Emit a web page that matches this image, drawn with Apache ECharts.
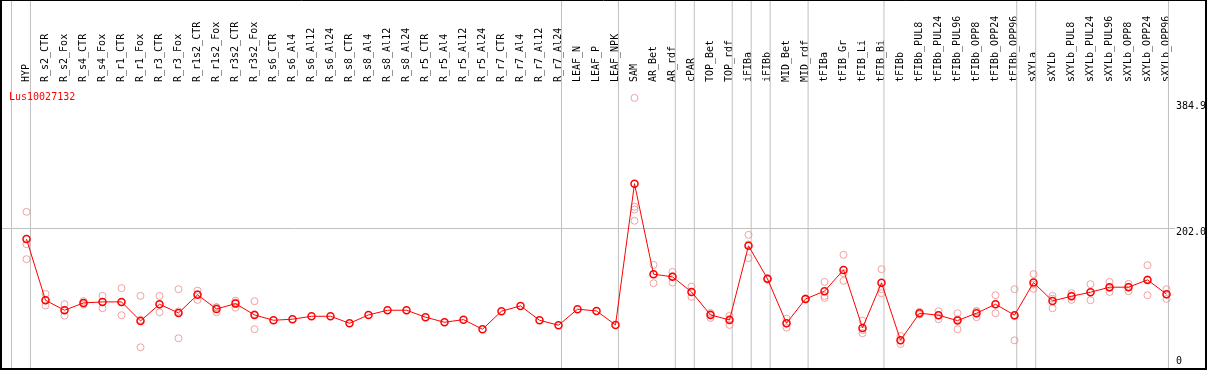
<!DOCTYPE html>
<html>
<head>
<meta charset="utf-8">
<script src="https://cdn.jsdelivr.net/npm/echarts@6/dist/echarts.min.js"></script>
<style>
html,body{margin:0;padding:0;background:#fff;}
#chart{width:1209px;height:370px;}
</style>
</head>
<body>
<div id="chart"></div>
<script>
// ---------- DATA ----------
const geneName = 'Lus10027132';
const categories = ['HYP','R_s2_CTR','R_s2_Fox','R_s4_CTR','R_s4_Fox','R_r1_CTR','R_r1_Fox','R_r3_CTR','R_r3_Fox','R_r1s2_CTR','R_r1s2_Fox','R_r3s2_CTR','R_r3s2_Fox','R_s6_CTR','R_s6_Al4','R_s6_Al12','R_s6_Al24','R_s8_CTR','R_s8_Al4','R_s8_Al12','R_s8_Al24','R_r5_CTR','R_r5_Al4','R_r5_Al12','R_r5_Al24','R_r7_CTR','R_r7_Al4','R_r7_Al12','R_r7_Al24','LEAF_N','LEAF_P','LEAF_NPK','SAM','AR_Bet','AR_rdf','cPAR','TOP_Bet','TOP_rdf','iFIBa','iFIBb','MID_Bet','MID_rdf','tFIBa','tFIB_Gr','tFIB_Li','tFIB_Bi','tFIBb','tFIBb_PUL8','tFIBb_PUL24','tFIBb_PUL96','tFIBb_OPP8','tFIBb_OPP24','tFIBb_OPP96','sXYLa','sXYLb','sXYLb_PUL8','sXYLb_PUL24','sXYLb_PUL96','sXYLb_OPP8','sXYLb_OPP24','sXYLb_OPP96'];
const meanValues = [186.8,98.2,83.7,94.3,95.8,95.8,68.2,92.4,79.8,106.0,85.6,93.3,76.9,69.2,70.7,75.0,75.0,64.8,76.9,83.7,83.7,73.6,66.3,70.1,56.2,82.3,90.0,69.2,62.0,85.2,82.7,62.4,267.1,136.0,132.1,110.3,76.9,69.7,177.1,129.2,64.8,100.1,111.3,142.2,58.1,123.4,40.3,79.4,76.5,68.7,79.4,92.4,76.5,123.8,97.2,104.0,109.8,117.1,117.1,127.7,107.0];
const rep1 = [226.4,107.4,92.4,97.0,104.5,115.7,104.5,104.5,114.2,112.2,88.1,97.7,96.8,null,null,null,null,null,null,null,null,null,null,null,null,null,null,null,null,null,null,null,391.4,149.5,139.3,118.0,78.4,75.5,193.0,130.0,71.6,101.0,124.8,164.0,68.7,143.2,46.4,81.5,82.3,79.4,82.7,105.5,114.2,136.0,104.5,108.4,121.4,124.8,121.9,149.0,114.2];
const rep2 = [157.7,90.4,75.9,92.0,86.6,76.5,30.0,80.8,43.1,98.7,80.8,87.5,56.2,null,null,null,null,null,null,null,null,null,null,null,null,null,null,null,null,null,null,null,213.4,122.9,123.8,103.0,72.6,62.4,159.2,128.0,58.5,99.5,101.6,126.3,50.4,108.4,34.8,77.5,70.7,56.2,73.6,79.4,40.1,114.7,86.6,98.7,98.2,110.3,111.3,105.5,100.1];
const rep3 = [179.5,98.0,84.0,94.0,96.0,95.0,70.0,92.0,82.0,107.0,88.0,95.0,78.0,null,null,null,null,null,null,null,null,null,null,null,null,null,null,null,null,null,null,null,233.7,136.0,133.0,110.0,79.7,71.0,179.0,129.5,64.5,100.0,104.5,137.4,55.0,114.2,40.0,79.5,76.5,70.5,82.0,92.4,75.0,121.0,100.5,105.0,110.0,116.0,118.0,128.5,106.5];
const rep4 = [null,null,null,null,null,null,null,null,null,null,null,null,null,null,null,null,null,null,null,null,null,null,null,null,null,null,null,null,null,null,null,null,229.8,null,null,null,null,null,null,null,null,null,null,null,null,null,null,null,null,null,null,null,null,null,null,null,null,null,null,null,null];
const yTickLabels = [0, 202.0, 384.9];
// index of the last category in each group (separator drawn after it); -1 = before the first
const groupEnds = [-1,0,28,31,34,35,37,38,39,41,45,52,53,60];

// ---------- LAYOUT ----------
const W = 1209, H = 370;
const STEP = 19;          // px per category
const X0 = 26.5;          // px of first category
const ZERO_Y = 368;       // px of value 0
const K = 0.69;           // px per unit
const HEADER_Y = 85;      // bottom of header
const N = categories.length;
const SEP_OFF = 4 / STEP;

// frame grid: value axes spanning the whole page, in "category index" units horizontally
const FX_OFFSET = 2;      // shift so that all frame x values are positive
const fxMin = -X0 / STEP + FX_OFFSET, fxMax = (W - X0) / STEP + FX_OFFSET;
const fyMin = -(H - ZERO_Y) / K, fyMax = ZERO_Y / K;
const pxToFx = px => (px - X0) / STEP + FX_OFFSET;
const pyToFy = py => (ZERO_Y - py) / K;

const font = 'DejaVu Sans Mono';
const noLabel = {show:false};
const sepData = [];
groupEnds.forEach(i => {
  const x = i + SEP_OFF + FX_OFFSET;
  sepData.push([x, fyMin], [x, fyMax], [x, '-']);
});
const gridLine202 = [{coord:[pxToFx(1), pyToFy(228.5)]},{coord:[pxToFx(1177), pyToFy(228.5)]}];

const chart = echarts.init(document.getElementById('chart'), null, {renderer:'canvas'});
const repStyle = {color:'rgba(0,0,0,0)', borderColor:'#ec8c8c', borderWidth:1};
function repSeries(arr){
  return {type:'scatter', xAxisIndex:0, yAxisIndex:0, data:arr, symbol:'circle', symbolSize:7,
    itemStyle:repStyle, z:2, silent:true};
}
chart.setOption({
  animation:false,
  backgroundColor:'#fff',
  title:{text:geneName, left:9, top:92, padding:0, textStyle:{color:'#ff0000', fontSize:10, fontWeight:'normal', fontFamily:font}},
  grid:[
    {left:X0 - STEP/2, width:STEP*N, top:HEADER_Y, height:ZERO_Y-HEADER_Y, containLabel:false},
    {left:0, top:0, width:W, height:H, containLabel:false}
  ],
  xAxis:[
    {type:'category', gridIndex:0, position:'top', data:categories, boundaryGap:true,
     axisLine:{show:true, lineStyle:{color:'#000', width:1}}, axisTick:{show:false}, splitLine:{show:false},
     axisLabel:{interval:0, rotate:90, margin:3, fontFamily:font, fontSize:10, color:'#000'}},
    {type:'value', gridIndex:1, min:fxMin, max:fxMax, show:false}
  ],
  yAxis:[
    {type:'value', gridIndex:0, min:0, max:(ZERO_Y-HEADER_Y)/K, show:false},
    {type:'value', gridIndex:1, min:fyMin, max:fyMax, show:false},
    {type:'value', gridIndex:1, min:fyMin, max:fyMax, position:'right',
     axisLine:{show:false}, axisTick:{show:false}, splitLine:{show:false},
     axisLabel:{inside:true, margin:31, align:'left', verticalAlign:'top', lineHeight:8,
       fontFamily:font, fontSize:10, color:'#000',
       customValues: yTickLabels.filter(v => v > 0),
       formatter: v => Number(v).toFixed(1)}},
    {type:'value', gridIndex:1, min:fyMin, max:fyMax, position:'right',
     axisLine:{show:false}, axisTick:{show:false}, splitLine:{show:false},
     axisLabel:{inside:true, margin:31, align:'left', verticalAlign:'bottom', lineHeight:8, padding:[0,0,3,0],
       fontFamily:font, fontSize:10, color:'#000',
       customValues: yTickLabels.filter(v => v === 0),
       formatter: v => String(v)}}
  ],
  series:[
    {type:'line', xAxisIndex:1, yAxisIndex:1, data:sepData, silent:true, z:1,
     symbol:'none', showSymbol:false, connectNulls:false, clip:false,
     lineStyle:{color:'#c0c0c0', width:1},
     markLine:{silent:true, symbol:['none','none'], label:noLabel, animation:false,
       lineStyle:{color:'#c0c0c0', width:1, type:'solid'},
       data: [gridLine202]}},
    {type:'line', xAxisIndex:1, yAxisIndex:1, data:[], silent:true, z:10,
     markLine:{silent:true, symbol:['none','none'], label:noLabel, animation:false,
       lineStyle:{color:'#000', width:1, type:'solid'},
       data:[
         [{coord:[fxMin, pyToFy(0.5)]},{coord:[fxMax, pyToFy(0.5)]}],
         [{coord:[fxMin, pyToFy(369)], lineStyle:{width:2}},{coord:[fxMax, pyToFy(369)]}],
         [{coord:[pxToFx(1), fyMin], lineStyle:{width:2}},{coord:[pxToFx(1), fyMax]}],
         [{coord:[pxToFx(1208), fyMin], lineStyle:{width:2}},{coord:[pxToFx(1208), fyMax]}]
       ]}},
    repSeries(rep1), repSeries(rep2), repSeries(rep3), repSeries(rep4),
    {type:'line', xAxisIndex:0, yAxisIndex:0, data:meanValues, symbol:'circle', symbolSize:7,
     showSymbol:true, showAllSymbol:true, silent:true, z:5,
     lineStyle:{color:'#ff0000', width:1},
     itemStyle:{color:'rgba(0,0,0,0)', borderColor:'#ff0000', borderWidth:1.5}}
  ]
});
</script>
</body>
</html>
